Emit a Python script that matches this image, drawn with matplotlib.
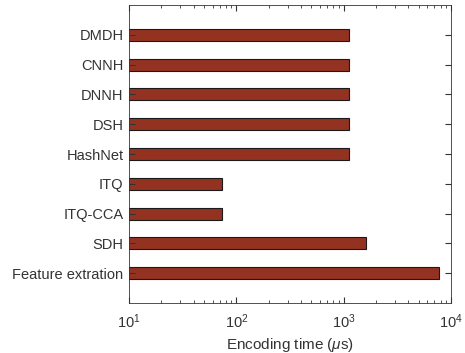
import matplotlib
matplotlib.use('Agg')
import matplotlib.pyplot as plt
from matplotlib.ticker import LogLocator

plt.rcParams['font.family'] = ['Liberation Sans', 'DejaVu Sans']
plt.rcParams['mathtext.fontset'] = 'custom'
plt.rcParams['mathtext.rm'] = 'Liberation Sans'
plt.rcParams['mathtext.it'] = 'Liberation Sans:italic'

methods = ['DMDH', 'CNNH', 'DNNH', 'DSH', 'HashNet', 'ITQ', 'ITQ-CCA', 'SDH', 'Feature extration']
times = [1130, 1130, 1130, 1130, 1130, 73, 73, 1600, 7700]

dark = '#333333'

fig = plt.figure(figsize=(4.65, 3.53), dpi=100)
ax = fig.add_axes([0.2774, 0.1416, 0.6926, 0.8442])

pos = list(range(len(methods), 0, -1))
ax.barh(pos, times, height=0.4, left=0, color='#943222', edgecolor='#1a1a1a', linewidth=0.8)

ax.set_xscale('log')
ax.set_xlim(10, 1e4)
ax.set_ylim(0, len(methods) + 1)
ax.set_yticks(pos)
ax.set_yticklabels(methods)
ax.xaxis.set_major_locator(LogLocator(base=10, numticks=10))
ax.xaxis.set_minor_locator(LogLocator(base=10, subs=range(2, 10), numticks=20))

ax.tick_params(axis='both', which='both', direction='in', top=True, right=True,
               colors=dark, labelsize=10.5)
ax.tick_params(axis='x', which='major', length=4, pad=7)
ax.tick_params(axis='x', which='minor', length=2)
ax.tick_params(axis='y', length=4, pad=4)
for lab in ax.get_xticklabels() + ax.get_yticklabels():
    lab.set_color(dark)
for s in ax.spines.values():
    s.set_color(dark)
    s.set_linewidth(0.6)

ax.set_xlabel(r'Encoding time ($\mu$s)', fontsize=11, color=dark, labelpad=3)

plt.savefig('out.png', dpi=100)
